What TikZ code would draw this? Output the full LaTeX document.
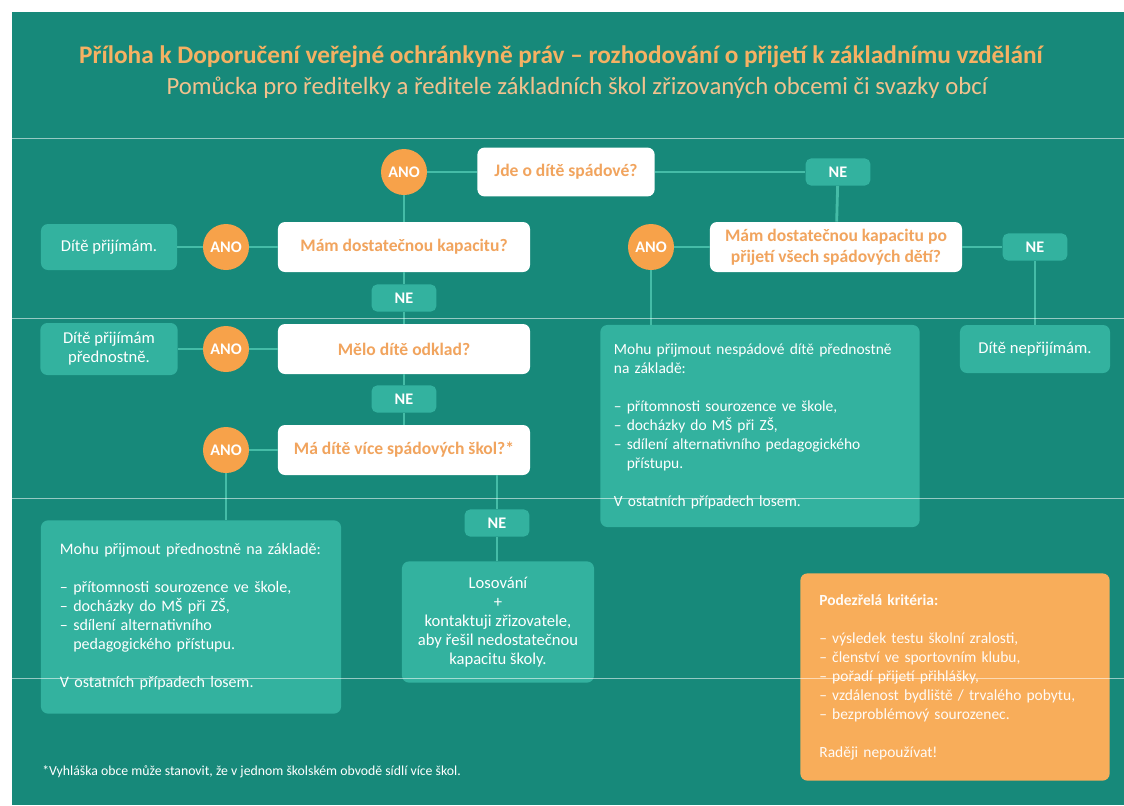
\documentclass[tikz,border=0pt]{standalone}
\usepackage{fontspec}
\setmainfont{Carlito}
\usetikzlibrary{positioning}
\hyphenpenalty=10000
\exhyphenpenalty=10000

\definecolor{bgteal}{HTML}{17897A}
\definecolor{liteal}{HTML}{33B29F}
\definecolor{linkteal}{HTML}{45BCA7}
\definecolor{orng}{HTML}{F7A24A}
\definecolor{orbox}{HTML}{F8AD5A}
\definecolor{ttl}{HTML}{F5B163}
\definecolor{subttl}{HTML}{F2C28E}
\definecolor{qtext}{HTML}{F1A45E}

\tikzset{
  ano/.style={circle, fill=orng, text=white, font=\bfseries\fontsize{11.5}{13}\selectfont,
    minimum size=1.15cm, inner sep=0pt},
  ne/.style={rounded corners=4pt, fill=liteal, text=white, font=\bfseries\fontsize{11.5}{13}\selectfont,
    minimum width=1.62cm, minimum height=0.68cm, inner sep=0pt},
  question/.style={rounded corners=5pt, fill=white, text=qtext, align=center,
    font=\bfseries\fontsize{12.5}{15}\selectfont, minimum width=6.3cm, minimum height=1.25cm, inner sep=0pt},
  answer/.style={rounded corners=5pt, fill=liteal, text=white, align=center,
    font=\fontsize{11.8}{13.5}\selectfont, inner sep=0pt},
  bigbox/.style={rounded corners=5pt, fill=liteal, text=white, align=left,
    font=\fontsize{11.4}{13.5}\selectfont, inner ysep=0pt},
  link/.style={draw=linkteal, line width=2pt}
}

\begin{document}
\begin{tikzpicture}[x=0.025cm, y=-0.025cm]
\useasboundingbox (0,0) rectangle (1124,805);
\fill[bgteal] (12,12) rectangle (1124,805);

% nadpis
\node (title) at (561,57) [text=ttl, font=\bfseries\fontsize{18}{21}\selectfont]
  {Příloha k Doporučení veřejné ochránkyně práv – rozhodování o přijetí k základnímu vzdělání};
\node (subtitle) at (577,88) [text=subttl, font=\fontsize{17.6}{21}\selectfont]
  {Pomůcka pro ředitelky a ředitele základních škol zřizovaných obcemi či svazky obcí};

% otazky
\node[question, minimum width=4.43cm, minimum height=1.22cm] (jde) at (566,172) {Jde o dítě spádové?};
\node[question] (kap) at (404,247) {Mám dostatečnou kapacitu?};
\node[question] (kappo) at (836,247) {Mám dostatečnou kapacitu po\\přijetí všech spádových dětí?};
\node[question] (melo) at (404,349) {Mělo dítě odklad?};
\node[question] (ma) at (404,450) {Má dítě více spádových škol?*};

% ANO / NE
\node[ano] (ano1) at (404,172) {ANO};
\node[ano] (ano2) at (226,247) {ANO};
\node[ano] (ano3) at (651,247) {ANO};
\node[ano] (ano4) at (226,349) {ANO};
\node[ano] (ano5) at (226,450) {ANO};
\node[ne] (ne1) at (838,172) {NE};
\node[ne] (ne2) at (1035,247) {NE};
\node[ne] (ne3) at (404,298) {NE};
\node[ne] (ne4) at (404,399) {NE};
\node[ne] (ne5) at (497,523) {NE};

% odpovedi
\node[answer, minimum width=3.4cm, minimum height=1.15cm] (prij) at (109,247) {Dítě přijímám.};
\node[answer, minimum width=3.43cm, minimum height=1.3cm] (prijpred) at (109,349) {Dítě přijímám\\přednostně.};
\node[answer, minimum width=3.75cm, minimum height=1.2cm] (nepr) at (1035,349) {Dítě nepřijímám.};
\node[answer, minimum width=4.8cm, minimum height=3.03cm] (los) at (498,622)
  {Losování\\+\\kontaktuji zřizovatele,\\aby řešil nedostatečnou\\kapacitu školy.};

\node[bigbox, text width=6.55cm, inner xsep=0.475cm, minimum height=4.83cm] (leftbox) at (191,617)
  {Mohu přijmout přednostně na základě:\\[13.5pt]
   – přítomnosti sourozence ve škole,\\
   – docházky do MŠ při ZŠ,\\
   – sdílení alternativního\\
   \phantom{– }pedagogického přístupu.\\[13.5pt]
   V ostatních případech losem.};
\node[bigbox, text width=7.3cm, inner xsep=0.34cm, minimum height=5.05cm,
  font=\fontsize{11}{13.5}\selectfont] (nesp) at (760,426)
  {Mohu přijmout nespádové dítě přednostně\\
   na základě:\\[13.5pt]
   – přítomnosti sourozence ve škole,\\
   – docházky do MŠ při ZŠ,\\
   – sdílení alternativního pedagogického\\
   \phantom{– }přístupu.\\[13.5pt]
   V ostatních případech losem.};
\node[bigbox, fill=orbox, text=white!95!orbox, text width=6.78cm, inner xsep=0.475cm, minimum height=5.18cm,
  font=\fontsize{11}{13.5}\selectfont] (podez) at (955,677)
  {\textbf{Podezřelá kritéria:}\\[13.5pt]
   – výsledek testu školní zralosti,\\
   – členství ve sportovním klubu,\\
   – pořadí přijetí přihlášky,\\
   – vzdálenost bydliště / trvalého pobytu,\\
   – bezproblémový sourozenec.\\[13.5pt]
   Raději nepoužívat!};

\node (note) at (42,772) [anchor=west, inner sep=0pt, text=white, font=\fontsize{9.8}{12}\selectfont]
  {*Vyhláška obce může stanovit, že v jednom školském obvodě sídlí více škol.};

% spojnice
\draw[link] (ano1) -- (jde);
\draw[link] (jde) -- (ne1);
\draw[link] (ne1) -- (kappo);
\draw[link] (ano1) -- (kap);
\draw[link] (prij) -- (ano2);
\draw[link] (ano2) -- (kap);
\draw[link] (kap) -- (ne3);
\draw[link] (ne3) -- (melo);
\draw[link] (prijpred) -- (ano4);
\draw[link] (ano4) -- (melo);
\draw[link] (melo) -- (ne4);
\draw[link] (ne4) -- (ma);
\draw[link] (ano5) -- (ma);
\draw[link] (ano5) -- (ano5 |- leftbox.north);
\draw[link] (ne5 |- ma.south) -- (ne5);
\draw[link] (ne5) -- (ne5 |- los.north);
\draw[link] (ano3) -- (kappo);
\draw[link] (kappo) -- (ne2);
\draw[link] (ano3) -- (ano3 |- nesp.north);
\draw[link] (ne2) -- (ne2 |- nepr.north);

\foreach \y in {138,318,498,678}
{
    \draw[white, opacity=0.55, line width=0.6pt] (12,\y) -- (1124,\y);
}
\end{tikzpicture}
\end{document}
